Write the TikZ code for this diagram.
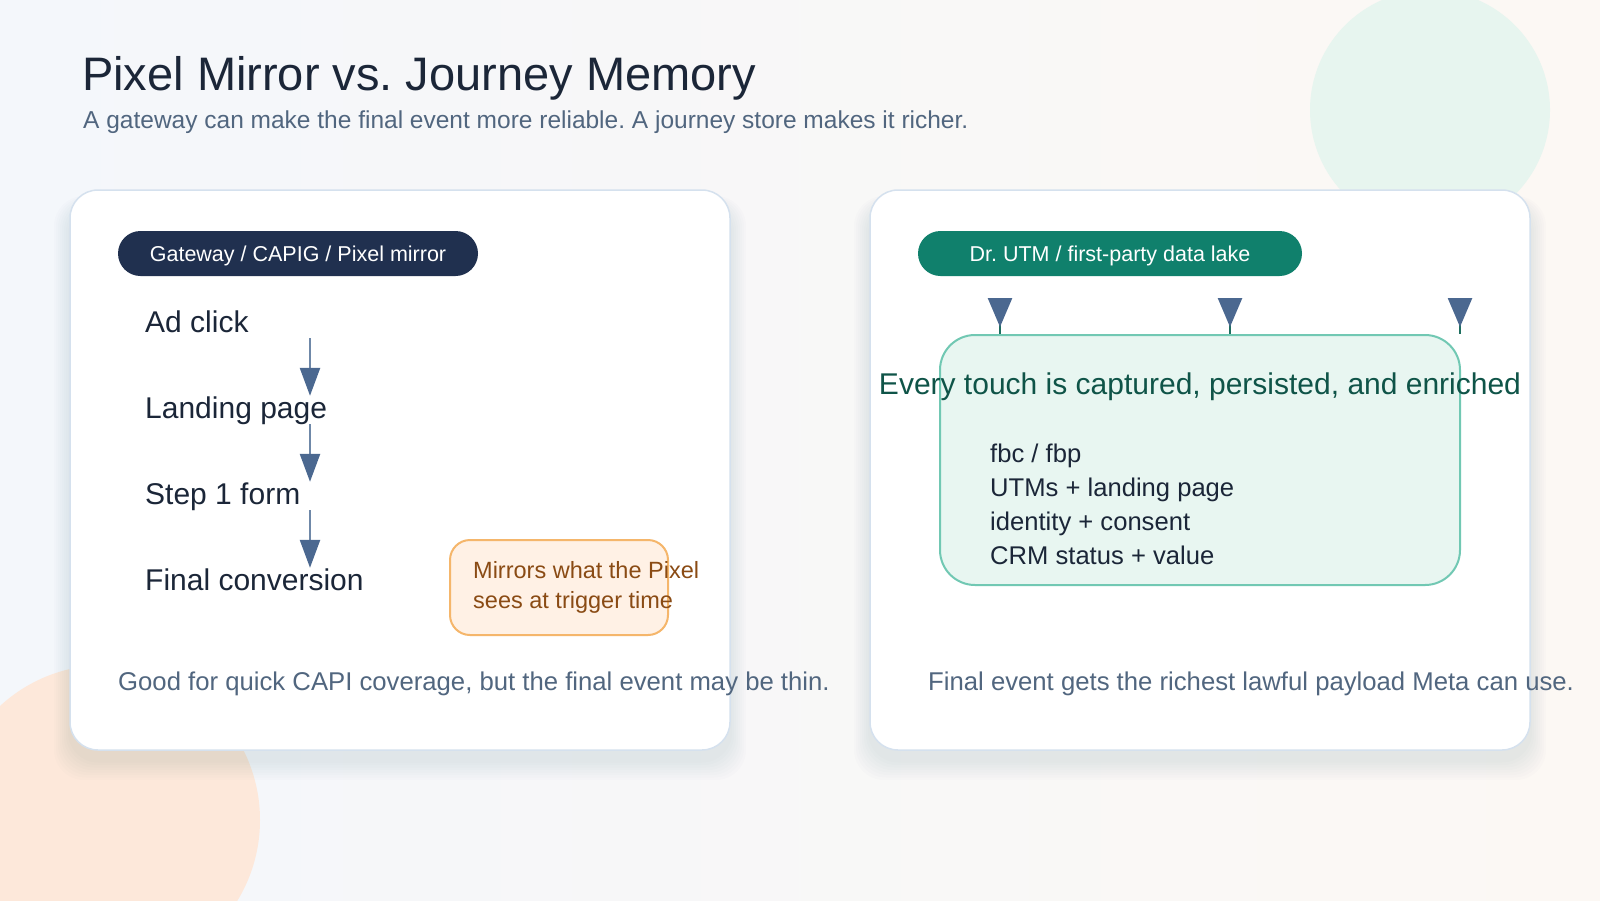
\documentclass[tikz,border=0pt]{standalone}
\usepackage{fontspec}
\setmainfont{Liberation Sans}
\usepackage{tikz}
\usepackage{xcolor}
\usetikzlibrary{arrows.meta,positioning,calc,decorations.markings}
\frenchspacing
\definecolor{bgleft}{HTML}{F4F7FB}
\definecolor{bgright}{HTML}{FCF8F4}
\definecolor{peach}{HTML}{FDE8DA}
\definecolor{mint}{HTML}{E7F5EF}
\definecolor{ink}{HTML}{1B2638}
\definecolor{inkslate}{HTML}{51667F}
\definecolor{cardedge}{HTML}{D5E1EE}
\definecolor{shadowc}{HTML}{3A4A60}
\definecolor{navy}{HTML}{20304F}
\definecolor{lakegreen}{HTML}{10806C}
\definecolor{arrowblue}{HTML}{4B6890}
\definecolor{arrowline}{HTML}{6F88A8}
\definecolor{tealdark}{HTML}{1E6F60}
\definecolor{notefill}{HTML}{FFF1E5}
\definecolor{noteedge}{HTML}{F5B66B}
\definecolor{notebrown}{HTML}{8A4B14}
\definecolor{lakefill}{HTML}{E8F6F1}
\definecolor{lakeedge}{HTML}{71C8B3}
\definecolor{laketext}{HTML}{0F5448}
\tikzset{
  card/.style={draw=cardedge,fill=white,line width=1.5pt,rounded corners=28pt,
               minimum width=660pt,minimum height=560pt,inner sep=0pt},
  pill/.style={rounded corners=22.5pt,minimum height=45pt,inner sep=0pt,
               text height=15.4pt,text depth=0pt,
               text=white,font=\fontsize{21.5}{26}\selectfont},
  steplabel/.style={anchor=base west,inner sep=0pt,text height=22pt,text depth=6pt,
                    text=ink,font=\fontsize{30}{36}\selectfont},
  flowarr/.style={-{Triangle[length=28pt,width=20pt,color=arrowblue]},
                  line width=2.5pt,color=arrowline},
  notebox/.style={draw=noteedge,fill=notefill,line width=2pt,rounded corners=20pt,
                  minimum width=218pt,minimum height=95pt,inner sep=0pt},
  notetext/.style={anchor=west,inner sep=0pt,align=left,text=notebrown,
                   font=\fontsize{23.5}{30}\selectfont},
  caption/.style={anchor=base west,inner sep=0pt,text=inkslate,
                  font=\fontsize{25.7}{30}\selectfont},
  lakebox/.style={draw=lakeedge,fill=lakefill,line width=2pt,rounded corners=35pt,
                  minimum width=520pt,minimum height=250pt,inner sep=0pt},
  boxtitle/.style={anchor=base,inner sep=0pt,text=laketext,
                   font=\fontsize{30}{36}\selectfont},
  listitem/.style={anchor=base west,inner sep=0pt,text=ink,
                   font=\fontsize{25.6}{30}\selectfont},
  tapline/.style={draw=tealdark,line width=2.5pt,postaction={decorate},
                  decoration={markings,mark=at position 0.8 with
                    {\arrow[arrowblue]{Triangle[length=29pt,width=24pt]}}}}
}

\begin{document}
\begin{tikzpicture}[x=1pt,y=-1pt]
  \clip (0,0) rectangle (1600,900);
  \shade[left color=bgleft,right color=bgright] (0,0) rectangle (1600,900);
  \fill[peach] (105,820) circle[radius=155];
  \fill[mint] (1430,110) circle[radius=120];

  \node[anchor=base west,inner sep=0pt,text=ink,font=\fontsize{47}{56}\selectfont]
    (title) at (82,90) {Pixel Mirror vs. Journey Memory};
  \node[anchor=base west,inner sep=0pt,text=inkslate,font=\fontsize{24.5}{30}\selectfont]
    (subtitle) at (83,128) {A gateway can make the final event more reliable. A journey store makes it richer.};

  \foreach \c in {70,870} {
    \foreach \s in {1,...,8}
      \fill[shadowc,opacity=0.011,rounded corners=30pt]
        (\c-\s*2,204-\s) rectangle (\c+660+\s*2,760+\s*2.5);
  }
  \node[card] (leftcard) at (400,470) {};
  \node[card] (rightcard) at (1200,470) {};

  \node[pill,fill=navy,minimum width=360pt] (gwpill) at (298,253.5)
    {Gateway / CAPIG / Pixel mirror};
  \node[pill,fill=lakegreen,minimum width=384pt] (lakepill) at (1110,253.5)
    {Dr. UTM / first-party data lake};

  \node[steplabel] (adclick) at (145,332) {Ad click};
  \node[steplabel] (landing) at (145,418) {Landing page};
  \node[steplabel] (stepform) at (145,504) {Step 1 form};
  \node[steplabel] (final) at (145,590) {Final conversion};
  \coordinate (flowx) at (310,0);
  \draw[flowarr] (adclick.south -| flowx) -- (landing.north -| flowx);
  \draw[flowarr] (landing.south -| flowx) -- (stepform.north -| flowx);
  \draw[flowarr] (stepform.south -| flowx) -- (final.north -| flowx);

  \node[notebox] (note) at (559,587.5) {};
  \node[notetext] (notetxt) at ($(note.west)+(24,0)$)
    {Mirrors what the Pixel\\sees at trigger time};

  \node[caption] (gwcap) at (118,690)
    {Good for quick CAPI coverage, but the final event may be thin.};

  \node[lakebox] (lake) at (1200,460) {};
  \foreach \x [count=\i] in {1000,1230,1460} {
    \coordinate (tap\i) at (\x,299);
    \draw[tapline] (tap\i) -- (tap\i |- lake.north);
  }
  \node[boxtitle] (touch) at (1200,394) {Every touch is captured, persisted, and enriched};
  \foreach \field [count=\i] in {fbc / fbp,UTMs + landing page,identity + consent,CRM status + value}
    \node[listitem] (field\i) at (990,428+34*\i) {\field};

  \node[caption] (lakecap) at (928,690)
    {Final event gets the richest lawful payload Meta can use.};
\end{tikzpicture}
\end{document}
